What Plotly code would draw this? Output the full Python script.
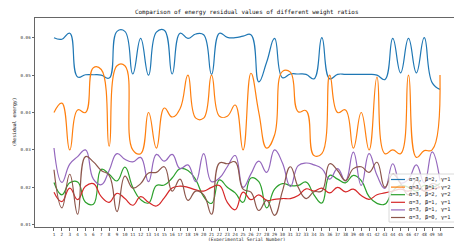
import plotly.graph_objects as go

serial = list(range(1, 51))

ratio_321 = [0.0600, 0.0596, 0.0612, 0.0495, 0.0501, 0.0501, 0.0500, 0.0492, 0.0617, 0.0617,
             0.0503, 0.0598, 0.0500, 0.0615, 0.0620, 0.0503, 0.0612, 0.0598, 0.0610, 0.0608,
             0.0502, 0.0612, 0.0601, 0.0600, 0.0604, 0.0608, 0.0482, 0.0535, 0.0598, 0.0493,
             0.0503, 0.0503, 0.0502, 0.0490, 0.0600, 0.0490, 0.0502, 0.0502, 0.0502, 0.0502,
             0.0502, 0.0500, 0.0488, 0.0598, 0.0506, 0.0598, 0.0506, 0.0600, 0.0480, 0.0462]
ratio_312 = [0.0400, 0.0425, 0.0300, 0.0407, 0.0400, 0.0520, 0.0515, 0.0310, 0.0525, 0.0525,
             0.0300, 0.0290, 0.0400, 0.0305, 0.0412, 0.0388, 0.0410, 0.0500, 0.0385, 0.0385,
             0.0500, 0.0390, 0.0390, 0.0420, 0.0300, 0.0505, 0.0400, 0.0305, 0.0340, 0.0510,
             0.0508, 0.0402, 0.0405, 0.0285, 0.0290, 0.0500, 0.0400, 0.0407, 0.0305, 0.0400,
             0.0300, 0.0495, 0.0290, 0.0300, 0.0290, 0.0500, 0.0280, 0.0298, 0.0300, 0.0500]
ratio_322 = [0.0213, 0.0180, 0.0212, 0.0214, 0.0160, 0.0155, 0.0248, 0.0235, 0.0217, 0.0254,
             0.0200, 0.0167, 0.0158, 0.0205, 0.0206, 0.0225, 0.0250, 0.0245, 0.0220, 0.0175,
             0.0157, 0.0220, 0.0200, 0.0185, 0.0160, 0.0225, 0.0215, 0.0145, 0.0195, 0.0210,
             0.0205, 0.0205, 0.0214, 0.0180, 0.0158, 0.0232, 0.0222, 0.0212, 0.0232, 0.0218,
             0.0175, 0.0157, 0.0155, 0.0190, 0.0205, 0.0200, 0.0190, 0.0205, 0.0200, 0.0210]
ratio_311 = [0.0187, 0.0162, 0.0198, 0.0167, 0.0203, 0.0210, 0.0175, 0.0160, 0.0184, 0.0170,
             0.0152, 0.0175, 0.0160, 0.0150, 0.0172, 0.0198, 0.0203, 0.0200, 0.0193, 0.0190,
             0.0200, 0.0205, 0.0160, 0.0140, 0.0187, 0.0167, 0.0180, 0.0165, 0.0168, 0.0170,
             0.0170, 0.0178, 0.0196, 0.0190, 0.0198, 0.0185, 0.0200, 0.0188, 0.0195, 0.0178,
             0.0168, 0.0180, 0.0185, 0.0190, 0.0195, 0.0190, 0.0200, 0.0190, 0.0195, 0.0200]
ratio_311b = [0.0305, 0.0213, 0.0262, 0.0282, 0.0300, 0.0222, 0.0207, 0.0245, 0.0290, 0.0275,
              0.0268, 0.0280, 0.0215, 0.0288, 0.0270, 0.0288, 0.0250, 0.0260, 0.0215, 0.0290,
              0.0215, 0.0225, 0.0255, 0.0285, 0.0200, 0.0236, 0.0270, 0.0240, 0.0300, 0.0265,
              0.0202, 0.0258, 0.0265, 0.0260, 0.0250, 0.0222, 0.0250, 0.0217, 0.0294, 0.0205,
              0.0290, 0.0232, 0.0197, 0.0263, 0.0212, 0.0222, 0.0260, 0.0212, 0.0295, 0.0218]
ratio_301 = [0.0247, 0.0145, 0.0235, 0.0128, 0.0282, 0.0268, 0.0245, 0.0232, 0.0135, 0.0230,
             0.0198, 0.0210, 0.0238, 0.0240, 0.0255, 0.0190, 0.0222, 0.0165, 0.0190, 0.0180,
             0.0128, 0.0265, 0.0263, 0.0268, 0.0195, 0.0187, 0.0138, 0.0165, 0.0125, 0.0190,
             0.0255, 0.0200, 0.0170, 0.0188, 0.0190, 0.0263, 0.0245, 0.0218, 0.0250, 0.0255,
             0.0240, 0.0267, 0.0200, 0.0235, 0.0210, 0.0180, 0.0220, 0.0190, 0.0210, 0.0200]

series = [ratio_321, ratio_312, ratio_322, ratio_311, ratio_311b, ratio_301]
labels = ["α=3, β=2, γ=1", "α=3, β=1, γ=2", "α=3, β=2, γ=2",
          "α=3, β=1, γ=1", "α=3, β=1, γ=1", "α=3, β=0, γ=1"]
colors = ["#1f77b4", "#ff7f0e", "#2ca02c", "#d62728", "#9467bd", "#8c564b"]
y_ticks = [0.01, 0.02, 0.03, 0.04, 0.05, 0.06]

W, H = 454, 241
L, R, T, B = 35, 0, 18, 14
pw, ph = W - L - R, H - T - B
MONO = "DejaVu Sans Mono"

def px(xp):
    return (xp - L) / pw

def py(yp):
    return (H - B - yp) / ph

fig = go.Figure()
for vals, lab, col in zip(series, labels, colors):
    fig.add_trace(go.Scatter(x=serial, y=vals, mode="lines", name=lab,
                             line=dict(color=col, width=1.2, shape="spline", smoothing=1.3),
                             showlegend=False))

shapes = [dict(type="rect", xref="paper", yref="paper", x0=px(389), x1=px(470),
               y0=py(222), y1=py(174), fillcolor="rgba(255,255,255,0.8)",
               line=dict(color="#d0d0d0", width=0.8), layer="above")]
annotations = []
for k, (lab, col) in enumerate(zip(labels, colors)):
    yy = 179.5 + 7.6 * k
    shapes.append(dict(type="line", xref="paper", yref="paper", x0=px(391), x1=px(405),
                       y0=py(yy), y1=py(yy), line=dict(color=col, width=1.2), layer="above"))
    annotations.append(dict(text=lab, xref="paper", yref="paper", x=px(406.5), y=py(yy),
                            xanchor="left", yanchor="middle", showarrow=False,
                            font=dict(family=MONO, size=5.3, color="#222")))

annotations.append(dict(text="Comparison of energy residual values of different weight ratios",
                        xref="paper", yref="paper", x=px(247), y=py(12), xanchor="center",
                        yanchor="middle", showarrow=False,
                        font=dict(family=MONO, size=5.9, color="#111")))
annotations.append(dict(text="(Residual energy)", xref="paper", yref="paper", x=px(14), y=0.5,
                        xanchor="center", yanchor="middle", textangle=-90, showarrow=False,
                        font=dict(family=MONO, size=4.8, color="#222")))
annotations.append(dict(text="(Experimental Serial Number)", xref="paper", yref="paper",
                        x=px(247), y=py(239), xanchor="center", yanchor="middle",
                        showarrow=False, font=dict(family=MONO, size=4.6, color="#222")))

fig.update_layout(
    width=W, height=H, margin=dict(l=L, r=R, t=T, b=B, pad=0),
    paper_bgcolor="white", plot_bgcolor="white", showlegend=False,
    shapes=shapes, annotations=annotations,
    xaxis=dict(range=[1 - 19 / 7.88, 50 + 14 / 7.88], tickmode="array", tickvals=serial,
               ticktext=[str(s) for s in serial], showgrid=False, zeroline=False,
               showline=True, linecolor="#666", linewidth=1, mirror=True,
               ticks="outside", ticklen=2.5, tickcolor="#666", tickwidth=0.6,
               tickfont=dict(family=MONO, size=4.3, color="#333"), tickangle=0,
               automargin=False),
    yaxis=dict(range=[0.00939, 0.06527], tickmode="array", tickvals=y_ticks,
               ticktext=["%.2f" % v for v in y_ticks], showgrid=False, zeroline=False,
               showline=True, linecolor="#666", linewidth=1,
               ticks="outside", ticklen=2.5, tickcolor="#666", tickwidth=0.6,
               tickfont=dict(family=MONO, size=4.2, color="#333"), automargin=False),
)

fig.write_html("out.html", config={"displayModeBar": False},
               post_script="document.body.style.margin='0';document.body.style.padding='0';")
